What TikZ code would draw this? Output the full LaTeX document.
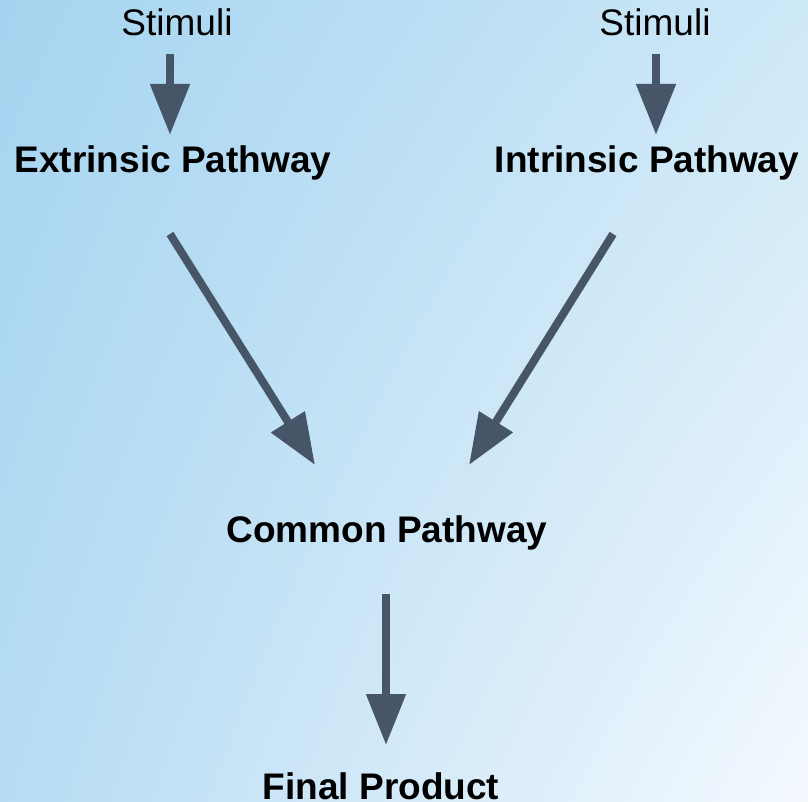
\documentclass[tikz,border=0pt]{standalone}
\usepackage{fontspec}
\setmainfont{Liberation Sans}
\usetikzlibrary{arrows.meta,shadings}
\definecolor{bgUL}{HTML}{A5D4F0}
\definecolor{bgUR}{HTML}{CDE8F7}
\definecolor{bgLL}{HTML}{B6DCF3}
\definecolor{bgLR}{HTML}{F4F9FE}
\definecolor{arrowc}{HTML}{475569}
\tikzset{
  lbl/.style={inner sep=0pt, font=\fontsize{37pt}{42pt}\selectfont, text=black},
  blbl/.style={inner sep=0pt, font=\fontsize{37pt}{42pt}\selectfont\bfseries, text=black},
  arr/.style={draw=arrowc, line width=8pt, -{Triangle[length=51pt,width=38pt]}, fill=arrowc}
}
\begin{document}
\begin{tikzpicture}[x=1pt,y=-1pt]
\useasboundingbox (0,0) rectangle (808,802);
\shade[upper left=bgUL, upper right=bgUR, lower left=bgLL, lower right=bgLR] (0,0) rectangle (808,802);
% text nodes
\node[lbl] (s1) at (177,22) {Stimuli};
\node[lbl] (s2) at (655,22) {Stimuli};
\node[blbl] (ext) at (173,163) {Extrinsic Pathway};
\node[blbl] (int) at (647,163) {Intrinsic Pathway};
\node[blbl] (com) at (387,533) {Common Pathway};
\node[blbl] (fin) at (381,786) {Final Product};
% arrow end points
\coordinate (a1s) at (170,54);  \coordinate (a1e) at (170,135);
\coordinate (a2s) at (656,54);  \coordinate (a2e) at (656,135);
\coordinate (a3s) at (170,234); \coordinate (a3e) at (315,465);
\coordinate (a4s) at (613,234); \coordinate (a4e) at (469,465);
\coordinate (a5s) at (386,594); \coordinate (a5e) at (386,745);
\draw[arr] (a1s) -- (a1e);
\draw[arr] (a2s) -- (a2e);
\draw[arr] (a3s) -- (a3e);
\draw[arr] (a4s) -- (a4e);
\draw[arr] (a5s) -- (a5e);
\end{tikzpicture}
\end{document}
